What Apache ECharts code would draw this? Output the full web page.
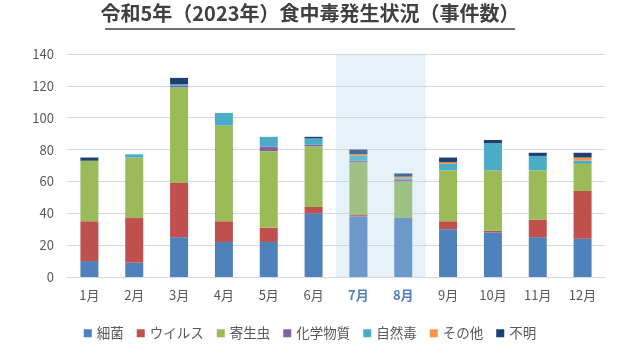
<!DOCTYPE html>
<html>
<head>
<meta charset="utf-8">
<script src="https://cdn.jsdelivr.net/npm/echarts@6/dist/echarts.min.js"></script>
<style>
  html, body { margin: 0; padding: 0; background: #fff; }
  #chart { width: 620px; height: 353px; }
</style>
</head>
<body>
<div id="chart"></div>
<script>
// 月
var months = ['1月', '2月', '3月', '4月', '5月', '6月', '7月', '8月', '9月', '10月', '11月', '12月']
// 病因物質別の事件数
var bacteria = [10, 9, 25, 22, 22, 40, 38, 37, 30, 28, 25, 24]   // 細菌
var virus = [25, 28, 34, 13, 9, 4, 1, 0, 5, 1, 11, 30]           // ウイルス
var parasite = [38, 38, 60, 60, 48, 38, 33, 23, 32, 38, 31, 17]  // 寄生虫
var chemical = [0, 0, 1, 0, 3, 1, 1, 1, 0, 0, 0, 0]              // 化学物質
var natural = [0, 2, 1, 8, 6, 4, 3, 1, 4, 17, 9, 2]              // 自然毒
var other = [0, 0, 0, 0, 0, 0, 1, 1, 1, 0, 0, 2]                 // その他
var unknown = [2, 0, 4, 0, 0, 1, 3, 2, 3, 2, 2, 3]               // 不明
var yTicks = [0, 20, 40, 60, 80, 100, 120, 140]
var highlight = ['7月', '8月']

var seriesDefs = [
  { name: '細菌', data: bacteria, color: '#4F81BD' },
  { name: 'ウイルス', data: virus, color: '#C0504D' },
  { name: '寄生虫', data: parasite, color: '#9BBB59' },
  { name: '化学物質', data: chemical, color: '#8064A2' },
  { name: '自然毒', data: natural, color: '#4BACC6' },
  { name: 'その他', data: other, color: '#F79646' },
  { name: '不明', data: unknown, color: '#1F3F6E' }
]

var font = '"Noto Sans CJK JP", "Noto Sans", sans-serif'
var chart = echarts.init(document.getElementById('chart'))

chart.setOption({
  animation: false,
  textStyle: { fontFamily: font },
  grid: { left: 67, right: 15, top: 54, bottom: 76, containLabel: false },
  graphic: [
    {
      type: 'text',
      left: 'center',
      top: 3,
      style: {
        text: '令和5年（2023年）食中毒発生状況（事件数）',
        fill: '#404040',
        fontSize: 20,
        fontWeight: 'bold',
        fontFamily: font
      }
    },
    {
      type: 'line',
      shape: { x1: 105, y1: 29, x2: 515, y2: 29 },
      style: { stroke: '#404040', lineWidth: 1.5 }
    }
  ],
  legend: {
    bottom: 8,
    left: 'center',
    icon: 'rect',
    itemWidth: 8,
    itemHeight: 8,
    itemGap: 13,
    textStyle: { color: '#595959', fontSize: 13.5, fontFamily: font },
    data: seriesDefs.map(function (s) { return s.name })
  },
  xAxis: {
    type: 'category',
    data: months,
    axisTick: { show: false },
    axisLine: { lineStyle: { color: '#D9D9D9' } },
    axisLabel: {
      interval: 0,
      margin: 12,
      color: '#595959',
      fontSize: 13,
      formatter: function (v) {
        return highlight.indexOf(v) >= 0 ? '{hl|' + v + '}' : v
      },
      rich: {
        hl: { color: '#4F81BD', fontWeight: 'bold', fontSize: 13 }
      }
    }
  },
  yAxis: {
    type: 'value',
    min: yTicks[0],
    max: yTicks[yTicks.length - 1],
    interval: yTicks[1] - yTicks[0],
    axisLabel: { color: '#595959', fontSize: 13, margin: 13 },
    splitLine: { lineStyle: { color: '#D9D9D9' } }
  },
  series: seriesDefs.map(function (s) {
    return {
      name: s.name,
      type: 'bar',
      stack: 'total',
      barWidth: 18,
      data: s.data,
      itemStyle: { color: s.color }
    }
  })
})

// 7月・8月の強調帯
var c1 = chart.convertToPixel({ xAxisIndex: 0 }, highlight[0])
var c2 = chart.convertToPixel({ xAxisIndex: 0 }, highlight[1])
var half = (c2 - c1) / 2
var yTop = chart.convertToPixel({ yAxisIndex: 0 }, yTicks[yTicks.length - 1])
var yBot = chart.convertToPixel({ yAxisIndex: 0 }, 0)
chart.setOption({
  graphic: [
    {}, {},
    {
      type: 'rect',
      z: 100,
      silent: true,
      shape: { x: c1 - half, y: yTop, width: (c2 - c1) + half * 2, height: yBot - yTop },
      style: { fill: 'rgba(172,208,232,0.3)' }
    }
  ]
})
</script>
</body>
</html>
